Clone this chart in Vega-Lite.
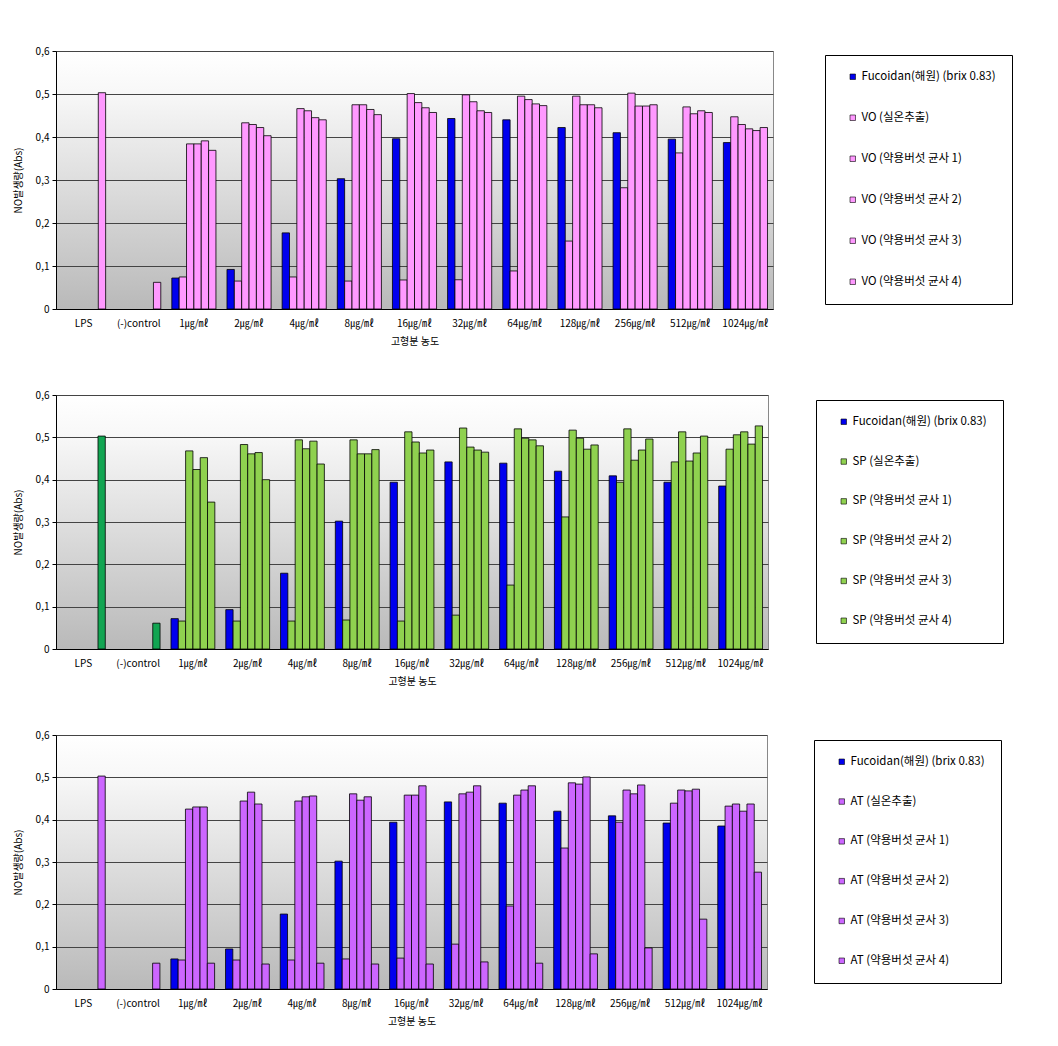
{
  "$schema": "https://vega.github.io/schema/vega-lite/v6.json",
  "background": "white",
  "padding": {"left": 12, "top": 45, "right": 0, "bottom": 0},
  "spacing": 42,
  "datasets": {
    "vo": [
      {"c": "LPS", "s": "VO (약용버섯 균사 4)", "v": 0.503},
      {"c": "(-)control", "s": "VO (약용버섯 균사 4)", "v": 0.062},
      {"c": "1㎍/㎖", "s": "Fucoidan(해원) (brix 0.83)", "v": 0.072},
      {"c": "1㎍/㎖", "s": "VO (실온추출)", "v": 0.0745},
      {"c": "1㎍/㎖", "s": "VO (약용버섯 균사 1)", "v": 0.384},
      {"c": "1㎍/㎖", "s": "VO (약용버섯 균사 2)", "v": 0.384},
      {"c": "1㎍/㎖", "s": "VO (약용버섯 균사 3)", "v": 0.391},
      {"c": "1㎍/㎖", "s": "VO (약용버섯 균사 4)", "v": 0.369},
      {"c": "2㎍/㎖", "s": "Fucoidan(해원) (brix 0.83)", "v": 0.092},
      {"c": "2㎍/㎖", "s": "VO (실온추출)", "v": 0.065},
      {"c": "2㎍/㎖", "s": "VO (약용버섯 균사 1)", "v": 0.433},
      {"c": "2㎍/㎖", "s": "VO (약용버섯 균사 2)", "v": 0.429},
      {"c": "2㎍/㎖", "s": "VO (약용버섯 균사 3)", "v": 0.422},
      {"c": "2㎍/㎖", "s": "VO (약용버섯 균사 4)", "v": 0.403},
      {"c": "4㎍/㎖", "s": "Fucoidan(해원) (brix 0.83)", "v": 0.177},
      {"c": "4㎍/㎖", "s": "VO (실온추출)", "v": 0.0745},
      {"c": "4㎍/㎖", "s": "VO (약용버섯 균사 1)", "v": 0.466},
      {"c": "4㎍/㎖", "s": "VO (약용버섯 균사 2)", "v": 0.461},
      {"c": "4㎍/㎖", "s": "VO (약용버섯 균사 3)", "v": 0.445},
      {"c": "4㎍/㎖", "s": "VO (약용버섯 균사 4)", "v": 0.44},
      {"c": "8㎍/㎖", "s": "Fucoidan(해원) (brix 0.83)", "v": 0.303},
      {"c": "8㎍/㎖", "s": "VO (실온추출)", "v": 0.065},
      {"c": "8㎍/㎖", "s": "VO (약용버섯 균사 1)", "v": 0.475},
      {"c": "8㎍/㎖", "s": "VO (약용버섯 균사 2)", "v": 0.475},
      {"c": "8㎍/㎖", "s": "VO (약용버섯 균사 3)", "v": 0.464},
      {"c": "8㎍/㎖", "s": "VO (약용버섯 균사 4)", "v": 0.452},
      {"c": "16㎍/㎖", "s": "Fucoidan(해원) (brix 0.83)", "v": 0.396},
      {"c": "16㎍/㎖", "s": "VO (실온추출)", "v": 0.0675},
      {"c": "16㎍/㎖", "s": "VO (약용버섯 균사 1)", "v": 0.501},
      {"c": "16㎍/㎖", "s": "VO (약용버섯 균사 2)", "v": 0.48},
      {"c": "16㎍/㎖", "s": "VO (약용버섯 균사 3)", "v": 0.468},
      {"c": "16㎍/㎖", "s": "VO (약용버섯 균사 4)", "v": 0.457},
      {"c": "32㎍/㎖", "s": "Fucoidan(해원) (brix 0.83)", "v": 0.443},
      {"c": "32㎍/㎖", "s": "VO (실온추출)", "v": 0.068},
      {"c": "32㎍/㎖", "s": "VO (약용버섯 균사 1)", "v": 0.498},
      {"c": "32㎍/㎖", "s": "VO (약용버섯 균사 2)", "v": 0.482},
      {"c": "32㎍/㎖", "s": "VO (약용버섯 균사 3)", "v": 0.461},
      {"c": "32㎍/㎖", "s": "VO (약용버섯 균사 4)", "v": 0.457},
      {"c": "64㎍/㎖", "s": "Fucoidan(해원) (brix 0.83)", "v": 0.44},
      {"c": "64㎍/㎖", "s": "VO (실온추출)", "v": 0.0885},
      {"c": "64㎍/㎖", "s": "VO (약용버섯 균사 1)", "v": 0.495},
      {"c": "64㎍/㎖", "s": "VO (약용버섯 균사 2)", "v": 0.487},
      {"c": "64㎍/㎖", "s": "VO (약용버섯 균사 3)", "v": 0.477},
      {"c": "64㎍/㎖", "s": "VO (약용버섯 균사 4)", "v": 0.473},
      {"c": "128㎍/㎖", "s": "Fucoidan(해원) (brix 0.83)", "v": 0.422},
      {"c": "128㎍/㎖", "s": "VO (실온추출)", "v": 0.158},
      {"c": "128㎍/㎖", "s": "VO (약용버섯 균사 1)", "v": 0.495},
      {"c": "128㎍/㎖", "s": "VO (약용버섯 균사 2)", "v": 0.475},
      {"c": "128㎍/㎖", "s": "VO (약용버섯 균사 3)", "v": 0.475},
      {"c": "128㎍/㎖", "s": "VO (약용버섯 균사 4)", "v": 0.468},
      {"c": "256㎍/㎖", "s": "Fucoidan(해원) (brix 0.83)", "v": 0.41},
      {"c": "256㎍/㎖", "s": "VO (실온추출)", "v": 0.282},
      {"c": "256㎍/㎖", "s": "VO (약용버섯 균사 1)", "v": 0.502},
      {"c": "256㎍/㎖", "s": "VO (약용버섯 균사 2)", "v": 0.472},
      {"c": "256㎍/㎖", "s": "VO (약용버섯 균사 3)", "v": 0.472},
      {"c": "256㎍/㎖", "s": "VO (약용버섯 균사 4)", "v": 0.475},
      {"c": "512㎍/㎖", "s": "Fucoidan(해원) (brix 0.83)", "v": 0.395},
      {"c": "512㎍/㎖", "s": "VO (실온추출)", "v": 0.363},
      {"c": "512㎍/㎖", "s": "VO (약용버섯 균사 1)", "v": 0.47},
      {"c": "512㎍/㎖", "s": "VO (약용버섯 균사 2)", "v": 0.454},
      {"c": "512㎍/㎖", "s": "VO (약용버섯 균사 3)", "v": 0.461},
      {"c": "512㎍/㎖", "s": "VO (약용버섯 균사 4)", "v": 0.457},
      {"c": "1024㎍/㎖", "s": "Fucoidan(해원) (brix 0.83)", "v": 0.387},
      {"c": "1024㎍/㎖", "s": "VO (실온추출)", "v": 0.447},
      {"c": "1024㎍/㎖", "s": "VO (약용버섯 균사 1)", "v": 0.429},
      {"c": "1024㎍/㎖", "s": "VO (약용버섯 균사 2)", "v": 0.419},
      {"c": "1024㎍/㎖", "s": "VO (약용버섯 균사 3)", "v": 0.415},
      {"c": "1024㎍/㎖", "s": "VO (약용버섯 균사 4)", "v": 0.422}
    ],
    "sp": [
      {"c": "LPS", "s": "SP (약용버섯 균사 4)", "v": 0.503},
      {"c": "(-)control", "s": "SP (약용버섯 균사 4)", "v": 0.061},
      {"c": "1㎍/㎖", "s": "Fucoidan(해원) (brix 0.83)", "v": 0.0717},
      {"c": "1㎍/㎖", "s": "SP (실온추출)", "v": 0.066},
      {"c": "1㎍/㎖", "s": "SP (약용버섯 균사 1)", "v": 0.468},
      {"c": "1㎍/㎖", "s": "SP (약용버섯 균사 2)", "v": 0.424},
      {"c": "1㎍/㎖", "s": "SP (약용버섯 균사 3)", "v": 0.452},
      {"c": "1㎍/㎖", "s": "SP (약용버섯 균사 4)", "v": 0.347},
      {"c": "2㎍/㎖", "s": "Fucoidan(해원) (brix 0.83)", "v": 0.093},
      {"c": "2㎍/㎖", "s": "SP (실온추출)", "v": 0.066},
      {"c": "2㎍/㎖", "s": "SP (약용버섯 균사 1)", "v": 0.483},
      {"c": "2㎍/㎖", "s": "SP (약용버섯 균사 2)", "v": 0.461},
      {"c": "2㎍/㎖", "s": "SP (약용버섯 균사 3)", "v": 0.464},
      {"c": "2㎍/㎖", "s": "SP (약용버섯 균사 4)", "v": 0.4},
      {"c": "4㎍/㎖", "s": "Fucoidan(해원) (brix 0.83)", "v": 0.179},
      {"c": "4㎍/㎖", "s": "SP (실온추출)", "v": 0.066},
      {"c": "4㎍/㎖", "s": "SP (약용버섯 균사 1)", "v": 0.494},
      {"c": "4㎍/㎖", "s": "SP (약용버섯 균사 2)", "v": 0.473},
      {"c": "4㎍/㎖", "s": "SP (약용버섯 균사 3)", "v": 0.491},
      {"c": "4㎍/㎖", "s": "SP (약용버섯 균사 4)", "v": 0.437},
      {"c": "8㎍/㎖", "s": "Fucoidan(해원) (brix 0.83)", "v": 0.302},
      {"c": "8㎍/㎖", "s": "SP (실온추출)", "v": 0.0685},
      {"c": "8㎍/㎖", "s": "SP (약용버섯 균사 1)", "v": 0.494},
      {"c": "8㎍/㎖", "s": "SP (약용버섯 균사 2)", "v": 0.461},
      {"c": "8㎍/㎖", "s": "SP (약용버섯 균사 3)", "v": 0.461},
      {"c": "8㎍/㎖", "s": "SP (약용버섯 균사 4)", "v": 0.471},
      {"c": "16㎍/㎖", "s": "Fucoidan(해원) (brix 0.83)", "v": 0.394},
      {"c": "16㎍/㎖", "s": "SP (실온추출)", "v": 0.066},
      {"c": "16㎍/㎖", "s": "SP (약용버섯 균사 1)", "v": 0.513},
      {"c": "16㎍/㎖", "s": "SP (약용버섯 균사 2)", "v": 0.489},
      {"c": "16㎍/㎖", "s": "SP (약용버섯 균사 3)", "v": 0.463},
      {"c": "16㎍/㎖", "s": "SP (약용버섯 균사 4)", "v": 0.47},
      {"c": "32㎍/㎖", "s": "Fucoidan(해원) (brix 0.83)", "v": 0.442},
      {"c": "32㎍/㎖", "s": "SP (실온추출)", "v": 0.08},
      {"c": "32㎍/㎖", "s": "SP (약용버섯 균사 1)", "v": 0.522},
      {"c": "32㎍/㎖", "s": "SP (약용버섯 균사 2)", "v": 0.477},
      {"c": "32㎍/㎖", "s": "SP (약용버섯 균사 3)", "v": 0.47},
      {"c": "32㎍/㎖", "s": "SP (약용버섯 균사 4)", "v": 0.465},
      {"c": "64㎍/㎖", "s": "Fucoidan(해원) (brix 0.83)", "v": 0.439},
      {"c": "64㎍/㎖", "s": "SP (실온추출)", "v": 0.151},
      {"c": "64㎍/㎖", "s": "SP (약용버섯 균사 1)", "v": 0.52},
      {"c": "64㎍/㎖", "s": "SP (약용버섯 균사 2)", "v": 0.498},
      {"c": "64㎍/㎖", "s": "SP (약용버섯 균사 3)", "v": 0.494},
      {"c": "64㎍/㎖", "s": "SP (약용버섯 균사 4)", "v": 0.48},
      {"c": "128㎍/㎖", "s": "Fucoidan(해원) (brix 0.83)", "v": 0.42},
      {"c": "128㎍/㎖", "s": "SP (실온추출)", "v": 0.312},
      {"c": "128㎍/㎖", "s": "SP (약용버섯 균사 1)", "v": 0.517},
      {"c": "128㎍/㎖", "s": "SP (약용버섯 균사 2)", "v": 0.498},
      {"c": "128㎍/㎖", "s": "SP (약용버섯 균사 3)", "v": 0.472},
      {"c": "128㎍/㎖", "s": "SP (약용버섯 균사 4)", "v": 0.482},
      {"c": "256㎍/㎖", "s": "Fucoidan(해원) (brix 0.83)", "v": 0.409},
      {"c": "256㎍/㎖", "s": "SP (실온추출)", "v": 0.394},
      {"c": "256㎍/㎖", "s": "SP (약용버섯 균사 1)", "v": 0.52},
      {"c": "256㎍/㎖", "s": "SP (약용버섯 균사 2)", "v": 0.446},
      {"c": "256㎍/㎖", "s": "SP (약용버섯 균사 3)", "v": 0.47},
      {"c": "256㎍/㎖", "s": "SP (약용버섯 균사 4)", "v": 0.496},
      {"c": "512㎍/㎖", "s": "Fucoidan(해원) (brix 0.83)", "v": 0.394},
      {"c": "512㎍/㎖", "s": "SP (실온추출)", "v": 0.442},
      {"c": "512㎍/㎖", "s": "SP (약용버섯 균사 1)", "v": 0.513},
      {"c": "512㎍/㎖", "s": "SP (약용버섯 균사 2)", "v": 0.444},
      {"c": "512㎍/㎖", "s": "SP (약용버섯 균사 3)", "v": 0.463},
      {"c": "512㎍/㎖", "s": "SP (약용버섯 균사 4)", "v": 0.503},
      {"c": "1024㎍/㎖", "s": "Fucoidan(해원) (brix 0.83)", "v": 0.385},
      {"c": "1024㎍/㎖", "s": "SP (실온추출)", "v": 0.472},
      {"c": "1024㎍/㎖", "s": "SP (약용버섯 균사 1)", "v": 0.506},
      {"c": "1024㎍/㎖", "s": "SP (약용버섯 균사 2)", "v": 0.513},
      {"c": "1024㎍/㎖", "s": "SP (약용버섯 균사 3)", "v": 0.484},
      {"c": "1024㎍/㎖", "s": "SP (약용버섯 균사 4)", "v": 0.527}
    ],
    "at": [
      {"c": "LPS", "s": "AT (약용버섯 균사 4)", "v": 0.503},
      {"c": "(-)control", "s": "AT (약용버섯 균사 4)", "v": 0.061},
      {"c": "1㎍/㎖", "s": "Fucoidan(해원) (brix 0.83)", "v": 0.071},
      {"c": "1㎍/㎖", "s": "AT (실온추출)", "v": 0.0685},
      {"c": "1㎍/㎖", "s": "AT (약용버섯 균사 1)", "v": 0.425},
      {"c": "1㎍/㎖", "s": "AT (약용버섯 균사 2)", "v": 0.43},
      {"c": "1㎍/㎖", "s": "AT (약용버섯 균사 3)", "v": 0.43},
      {"c": "1㎍/㎖", "s": "AT (약용버섯 균사 4)", "v": 0.061},
      {"c": "2㎍/㎖", "s": "Fucoidan(해원) (brix 0.83)", "v": 0.0945},
      {"c": "2㎍/㎖", "s": "AT (실온추출)", "v": 0.0685},
      {"c": "2㎍/㎖", "s": "AT (약용버섯 균사 1)", "v": 0.444},
      {"c": "2㎍/㎖", "s": "AT (약용버섯 균사 2)", "v": 0.465},
      {"c": "2㎍/㎖", "s": "AT (약용버섯 균사 3)", "v": 0.437},
      {"c": "2㎍/㎖", "s": "AT (약용버섯 균사 4)", "v": 0.059},
      {"c": "4㎍/㎖", "s": "Fucoidan(해원) (brix 0.83)", "v": 0.177},
      {"c": "4㎍/㎖", "s": "AT (실온추출)", "v": 0.0685},
      {"c": "4㎍/㎖", "s": "AT (약용버섯 균사 1)", "v": 0.444},
      {"c": "4㎍/㎖", "s": "AT (약용버섯 균사 2)", "v": 0.454},
      {"c": "4㎍/㎖", "s": "AT (약용버섯 균사 3)", "v": 0.456},
      {"c": "4㎍/㎖", "s": "AT (약용버섯 균사 4)", "v": 0.061},
      {"c": "8㎍/㎖", "s": "Fucoidan(해원) (brix 0.83)", "v": 0.302},
      {"c": "8㎍/㎖", "s": "AT (실온추출)", "v": 0.071},
      {"c": "8㎍/㎖", "s": "AT (약용버섯 균사 1)", "v": 0.461},
      {"c": "8㎍/㎖", "s": "AT (약용버섯 균사 2)", "v": 0.446},
      {"c": "8㎍/㎖", "s": "AT (약용버섯 균사 3)", "v": 0.454},
      {"c": "8㎍/㎖", "s": "AT (약용버섯 균사 4)", "v": 0.059},
      {"c": "16㎍/㎖", "s": "Fucoidan(해원) (brix 0.83)", "v": 0.394},
      {"c": "16㎍/㎖", "s": "AT (실온추출)", "v": 0.073},
      {"c": "16㎍/㎖", "s": "AT (약용버섯 균사 1)", "v": 0.458},
      {"c": "16㎍/㎖", "s": "AT (약용버섯 균사 2)", "v": 0.458},
      {"c": "16㎍/㎖", "s": "AT (약용버섯 균사 3)", "v": 0.48},
      {"c": "16㎍/㎖", "s": "AT (약용버섯 균사 4)", "v": 0.059},
      {"c": "32㎍/㎖", "s": "Fucoidan(해원) (brix 0.83)", "v": 0.442},
      {"c": "32㎍/㎖", "s": "AT (실온추출)", "v": 0.106},
      {"c": "32㎍/㎖", "s": "AT (약용버섯 균사 1)", "v": 0.461},
      {"c": "32㎍/㎖", "s": "AT (약용버섯 균사 2)", "v": 0.465},
      {"c": "32㎍/㎖", "s": "AT (약용버섯 균사 3)", "v": 0.48},
      {"c": "32㎍/㎖", "s": "AT (약용버섯 균사 4)", "v": 0.064},
      {"c": "64㎍/㎖", "s": "Fucoidan(해원) (brix 0.83)", "v": 0.439},
      {"c": "64㎍/㎖", "s": "AT (실온추출)", "v": 0.196},
      {"c": "64㎍/㎖", "s": "AT (약용버섯 균사 1)", "v": 0.458},
      {"c": "64㎍/㎖", "s": "AT (약용버섯 균사 2)", "v": 0.47},
      {"c": "64㎍/㎖", "s": "AT (약용버섯 균사 3)", "v": 0.48},
      {"c": "64㎍/㎖", "s": "AT (약용버섯 균사 4)", "v": 0.061},
      {"c": "128㎍/㎖", "s": "Fucoidan(해원) (brix 0.83)", "v": 0.42},
      {"c": "128㎍/㎖", "s": "AT (실온추출)", "v": 0.333},
      {"c": "128㎍/㎖", "s": "AT (약용버섯 균사 1)", "v": 0.487},
      {"c": "128㎍/㎖", "s": "AT (약용버섯 균사 2)", "v": 0.484},
      {"c": "128㎍/㎖", "s": "AT (약용버섯 균사 3)", "v": 0.501},
      {"c": "128㎍/㎖", "s": "AT (약용버섯 균사 4)", "v": 0.083},
      {"c": "256㎍/㎖", "s": "Fucoidan(해원) (brix 0.83)", "v": 0.409},
      {"c": "256㎍/㎖", "s": "AT (실온추출)", "v": 0.394},
      {"c": "256㎍/㎖", "s": "AT (약용버섯 균사 1)", "v": 0.47},
      {"c": "256㎍/㎖", "s": "AT (약용버섯 균사 2)", "v": 0.461},
      {"c": "256㎍/㎖", "s": "AT (약용버섯 균사 3)", "v": 0.482},
      {"c": "256㎍/㎖", "s": "AT (약용버섯 균사 4)", "v": 0.097},
      {"c": "512㎍/㎖", "s": "Fucoidan(해원) (brix 0.83)", "v": 0.392},
      {"c": "512㎍/㎖", "s": "AT (실온추출)", "v": 0.439},
      {"c": "512㎍/㎖", "s": "AT (약용버섯 균사 1)", "v": 0.47},
      {"c": "512㎍/㎖", "s": "AT (약용버섯 균사 2)", "v": 0.468},
      {"c": "512㎍/㎖", "s": "AT (약용버섯 균사 3)", "v": 0.472},
      {"c": "512㎍/㎖", "s": "AT (약용버섯 균사 4)", "v": 0.165},
      {"c": "1024㎍/㎖", "s": "Fucoidan(해원) (brix 0.83)", "v": 0.385},
      {"c": "1024㎍/㎖", "s": "AT (실온추출)", "v": 0.432},
      {"c": "1024㎍/㎖", "s": "AT (약용버섯 균사 1)", "v": 0.437},
      {"c": "1024㎍/㎖", "s": "AT (약용버섯 균사 2)", "v": 0.42},
      {"c": "1024㎍/㎖", "s": "AT (약용버섯 균사 3)", "v": 0.437},
      {"c": "1024㎍/㎖", "s": "AT (약용버섯 균사 4)", "v": 0.276}
    ]
  },
  "vconcat": [
    {
      "width": 717,
      "height": 258,
      "data": {"name": "vo"},
      "mark": {"type": "bar", "stroke": "black", "strokeWidth": 0.8},
      "encoding": {
        "x": {"field": "c", "type": "nominal", "sort": ["LPS", "(-)control", "1㎍/㎖", "2㎍/㎖", "4㎍/㎖", "8㎍/㎖", "16㎍/㎖", "32㎍/㎖", "64㎍/㎖", "128㎍/㎖", "256㎍/㎖", "512㎍/㎖", "1024㎍/㎖"], "scale": {"paddingInner": 0.2, "paddingOuter": 0.1}, "axis": {"title": "고형분 농도"}},
        "xOffset": {"field": "s", "type": "nominal", "sort": ["Fucoidan(해원) (brix 0.83)", "VO (실온추출)", "VO (약용버섯 균사 1)", "VO (약용버섯 균사 2)", "VO (약용버섯 균사 3)", "VO (약용버섯 균사 4)"]},
        "y": {"field": "v", "type": "quantitative", "scale": {"domain": [0, 0.6]}, "axis": {"title": "NO발생량(Abs)"}},
        "color": {"field": "s", "type": "nominal", "sort": ["Fucoidan(해원) (brix 0.83)", "VO (실온추출)", "VO (약용버섯 균사 1)", "VO (약용버섯 균사 2)", "VO (약용버섯 균사 3)", "VO (약용버섯 균사 4)"], "scale": {"range": ["#0000ee", "#ff99ff", "#ff99ff", "#ff99ff", "#ff99ff", "#ff99ff"]}, "legend": {"legendX": 769, "legendY": 4, "rowPadding": 28}}
      }
    },
    {
      "width": 712,
      "height": 254,
      "data": {"name": "sp"},
      "mark": {"type": "bar", "stroke": "black", "strokeWidth": 0.8},
      "encoding": {
        "x": {"field": "c", "type": "nominal", "sort": ["LPS", "(-)control", "1㎍/㎖", "2㎍/㎖", "4㎍/㎖", "8㎍/㎖", "16㎍/㎖", "32㎍/㎖", "64㎍/㎖", "128㎍/㎖", "256㎍/㎖", "512㎍/㎖", "1024㎍/㎖"], "scale": {"paddingInner": 0.2, "paddingOuter": 0.1}, "axis": {"title": "고형분 농도"}},
        "xOffset": {"field": "s", "type": "nominal", "sort": ["Fucoidan(해원) (brix 0.83)", "SP (실온추출)", "SP (약용버섯 균사 1)", "SP (약용버섯 균사 2)", "SP (약용버섯 균사 3)", "SP (약용버섯 균사 4)"]},
        "y": {"field": "v", "type": "quantitative", "scale": {"domain": [0, 0.6]}, "axis": {"title": "NO발생량(Abs)"}},
        "color": {"condition": {"test": "datum.c === 'LPS' || datum.c === '(-)control'", "value": "#12a552"}, "field": "s", "type": "nominal", "sort": ["Fucoidan(해원) (brix 0.83)", "SP (실온추출)", "SP (약용버섯 균사 1)", "SP (약용버섯 균사 2)", "SP (약용버섯 균사 3)", "SP (약용버섯 균사 4)"], "scale": {"range": ["#0000ee", "#8fd14f", "#8fd14f", "#8fd14f", "#8fd14f", "#8fd14f"]}, "legend": {"legendX": 760, "legendY": 5, "rowPadding": 26.8}}
      }
    },
    {
      "width": 711,
      "height": 254,
      "data": {"name": "at"},
      "mark": {"type": "bar", "stroke": "black", "strokeWidth": 0.8},
      "encoding": {
        "x": {"field": "c", "type": "nominal", "sort": ["LPS", "(-)control", "1㎍/㎖", "2㎍/㎖", "4㎍/㎖", "8㎍/㎖", "16㎍/㎖", "32㎍/㎖", "64㎍/㎖", "128㎍/㎖", "256㎍/㎖", "512㎍/㎖", "1024㎍/㎖"], "scale": {"paddingInner": 0.2, "paddingOuter": 0.1}, "axis": {"title": "고형분 농도"}},
        "xOffset": {"field": "s", "type": "nominal", "sort": ["Fucoidan(해원) (brix 0.83)", "AT (실온추출)", "AT (약용버섯 균사 1)", "AT (약용버섯 균사 2)", "AT (약용버섯 균사 3)", "AT (약용버섯 균사 4)"]},
        "y": {"field": "v", "type": "quantitative", "scale": {"domain": [0, 0.6]}, "axis": {"title": "NO발생량(Abs)"}},
        "color": {"field": "s", "type": "nominal", "sort": ["Fucoidan(해원) (brix 0.83)", "AT (실온추출)", "AT (약용버섯 균사 1)", "AT (약용버섯 균사 2)", "AT (약용버섯 균사 3)", "AT (약용버섯 균사 4)"], "scale": {"range": ["#0000ee", "#cc66ff", "#cc66ff", "#cc66ff", "#cc66ff", "#cc66ff"]}, "legend": {"legendX": 758, "legendY": 5, "rowPadding": 26.8}}
      }
    }
  ],
  "resolve": {"scale": {"color": "independent", "x": "independent", "xOffset": "independent"}, "legend": {"color": "independent"}},
  "config": {
    "font": "Noto Sans CJK KR",
    "view": {"stroke": "#888888", "strokeWidth": 1, "fill": {"gradient": "linear", "x1": 0, "y1": 0, "x2": 0, "y2": 1, "stops": [{"offset": 0, "color": "#ffffff"}, {"offset": 0.17, "color": "#f7f7f7"}, {"offset": 1, "color": "#b9b9b9"}]}},
    "axis": {"labelFontSize": 10, "titleFontSize": 10, "labelColor": "#000000", "titleColor": "#000000", "titleFontWeight": "normal", "domainColor": "#000000", "tickColor": "#000000", "gridColor": "#444444", "gridWidth": 1},
    "axisX": {"labelAngle": 0, "ticks": false, "tickSize": 0, "labelPadding": 9, "titlePadding": 8, "grid": false},
    "axisY": {"values": [0, 0.1, 0.2, 0.3, 0.4, 0.5, 0.6], "labelExpr": "datum.value == 0 ? '0' : replace(format(datum.value, '.1f'), '.', ',')", "tickSize": 4, "labelPadding": 3, "titlePadding": 12, "grid": true},
    "legend": {"orient": "none", "title": null, "strokeColor": "#000000", "fillColor": "#ffffff", "padding": 16, "symbolOffset": 6, "rowPadding": 28, "symbolType": "square", "symbolSize": 30, "symbolStrokeColor": "#000000", "symbolStrokeWidth": 0.6, "labelFontSize": 11.5, "labelColor": "#000000", "labelLimit": 400, "labelOffset": 3}
  }
}
